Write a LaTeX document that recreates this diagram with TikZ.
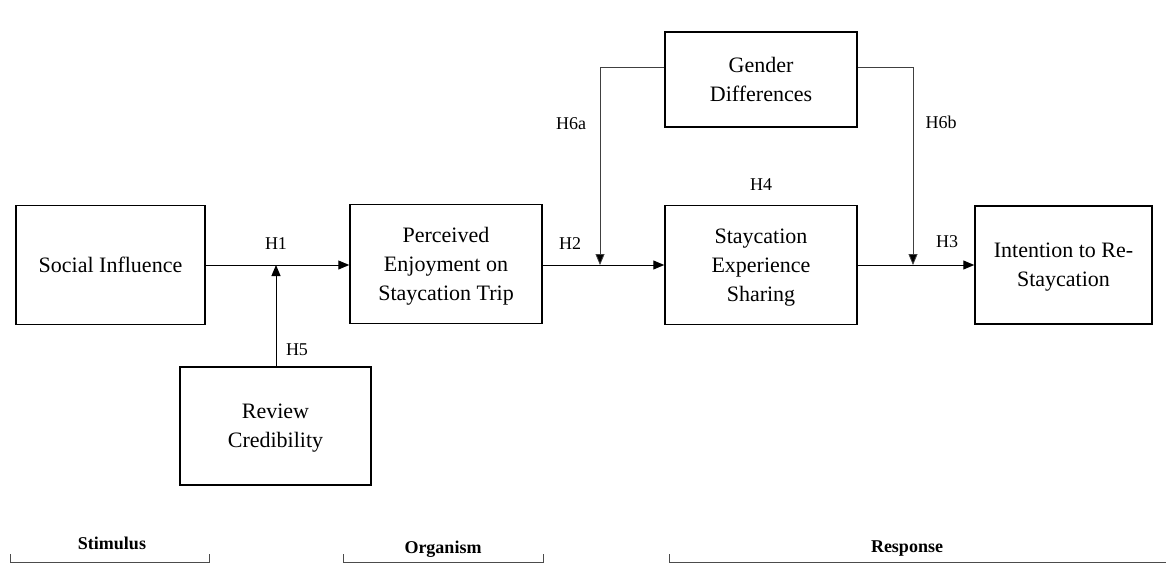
\documentclass[tikz,border=0pt]{standalone}
\usepackage{fontspec}
\setmainfont{Liberation Serif}
\usetikzlibrary{arrows.meta}

\begin{document}
\begin{tikzpicture}[
            x = 1pt, y = -1pt,
            every node/.style={text depth=0pt},
            box/.style={draw, line width = 1.5pt, align=center, font=\fontsize{22}{29}\selectfont, minimum height=119pt},
            hyp/.style={font=\fontsize{18}{20}\selectfont},
            stage/.style={font=\fontsize{18}{20}\selectfont\bfseries},
            line/.style={line width = 1pt, -{Triangle[length=11pt, width=9pt]}},
            modline/.style={line width = .8pt, black!75, -{Triangle[length=11pt, width=9pt, fill=black]}},
            bracket/.style={line width = 1pt, black!70},
            ]
        \useasboundingbox (0, 0) rectangle (1168, 565);

        % boxes
        \node[box, minimum width=189pt] (social) at (110.5, 265) {Social Influence};
        \node[box, minimum width=192pt] (enjoy) at (446, 264) {Perceived\\Enjoyment on\\Staycation Trip};
        \node[box, minimum width=192pt] (sharing) at (761, 265) {Staycation\\Experience\\Sharing};
        \node[box, minimum width=177pt, minimum height=118pt] (intention) at (1063.5, 265) {Intention to Re-\\Staycation};
        \node[box, minimum width=192pt, minimum height=95pt] (gender) at (761, 79.5) {Gender\\Differences};
        \node[box, minimum width=191pt, minimum height=118pt] (review) at (275.5, 426) {Review\\Credibility};

        \coordinate (j1) at (276, 265);
        \coordinate (j2) at (600, 265);
        \coordinate (j3) at (913, 265);
        \coordinate (g2) at (600, 67);
        \coordinate (g3) at (913, 67);

        % paths
        \draw[line] (social.east |- j1) -- (enjoy.west |- j1);
        \draw[line] (review.north -| j1) -- (j1);
        \draw[line] (enjoy.east |- j2) -- (sharing.west |- j2);
        \draw[line] (sharing.east |- j3) -- (intention.west |- j3);
        \draw[modline] (gender.west |- g2) -- (g2) -- (j2);
        \draw[modline] (gender.east |- g3) -- (g3) -- (j3);

        % hypotheses
        \node[hyp] (h1) at (276, 244) {H1};
        \node[hyp] (h5) at (297, 350) {H5};
        \node[hyp] (h2) at (570, 244) {H2};
        \node[hyp] (h3) at (947, 242) {H3};
        \node[hyp] (h4) at (761, 185) {H4};
        \node[hyp] (h6a) at (571, 124) {H6a};
        \node[hyp] (h6b) at (941, 122) {H6b};

        % stages
        \node[stage] (stimulus) at (112, 543) {Stimulus};
        \node[stage] (organism) at (443, 547) {Organism};
        \node[stage] (response) at (907, 547) {Response};
        \draw[bracket] (10, 554) -- (10, 562) -- (209, 562) -- (209, 554);
        \draw[bracket] (343, 554) -- (343, 562) -- (543, 562) -- (543, 554);
        \draw[bracket] (669, 554) -- (669, 562) -- (1166, 562);
    \end{tikzpicture}
\end{document}
